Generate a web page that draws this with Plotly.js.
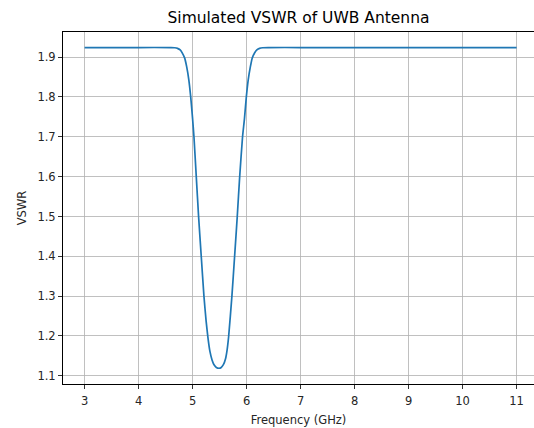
<!DOCTYPE html>
<html>
<head>
<meta charset="utf-8">
<script src="https://cdn.plot.ly/plotly-3.0.1.min.js"></script>
<style>html,body{margin:0;padding:0;background:#fff;}#chart{width:534px;height:428px;}</style>
</head>
<body>
<div id="chart"></div>
<script>
// Frequency (GHz)
const frequency = [3.0, 4.0, 4.6, 4.667, 4.72, 4.77, 4.81, 4.852, 4.89, 4.93, 4.965, 5.0, 5.025, 5.068, 5.111, 5.16, 5.21, 5.25, 5.284, 5.32, 5.36, 5.40, 5.44, 5.49, 5.53, 5.57, 5.61, 5.64, 5.667, 5.728, 5.778, 5.827, 5.872, 5.925, 5.96, 5.995, 6.03, 6.07, 6.105, 6.15, 6.19, 6.24, 6.30, 6.4, 7.0, 8.0, 9.0, 10.0, 11.0];
// VSWR values
const vswr = [1.924, 1.924, 1.924, 1.9235, 1.922, 1.918, 1.910, 1.898, 1.876, 1.843, 1.800, 1.745, 1.700, 1.600, 1.500, 1.400, 1.300, 1.238, 1.196, 1.162, 1.140, 1.127, 1.121, 1.119, 1.121, 1.128, 1.143, 1.166, 1.198, 1.300, 1.400, 1.500, 1.600, 1.700, 1.745, 1.800, 1.843, 1.876, 1.898, 1.911, 1.918, 1.922, 1.9235, 1.924, 1.924, 1.924, 1.924, 1.924, 1.924];
const xTicks = [3, 4, 5, 6, 7, 8, 9, 10, 11];
const yTicks = [1.1, 1.2, 1.3, 1.4, 1.5, 1.6, 1.7, 1.8, 1.9];

const font = {family: 'DejaVu Sans, sans-serif', size: 11.5, color: '#262626'};

Plotly.newPlot('chart', [{
  x: frequency,
  y: vswr,
  type: 'scatter',
  mode: 'lines',
  line: {color: '#1f77b4', width: 1.7, shape: 'spline', smoothing: 0.5},
  hoverinfo: 'skip'
}], {
  width: 534,
  height: 428,
  margin: {l: 63, r: 0, t: 32, b: 44},
  paper_bgcolor: '#fff',
  plot_bgcolor: '#fff',
  showlegend: false,
  font: font,
  title: {
    text: 'Simulated VSWR of UWB Antenna',
    font: {family: 'DejaVu Sans, sans-serif', size: 15.5, color: '#000'},
    xref: 'paper', x: 0.5, xanchor: 'center',
    yref: 'container', y: 1 - 18/428, yanchor: 'middle'
  },
  xaxis: {
    range: [2.6, 2.6 + 471/54],
    tickmode: 'array', tickvals: xTicks, ticktext: xTicks.map(String),
    showgrid: true, gridcolor: '#b0b0b0', gridwidth: 0.8,
    zeroline: false,
    showline: true, linecolor: '#000', linewidth: 1, mirror: true,
    ticks: 'outside', ticklen: 4, tickcolor: '#000', tickwidth: 0.8,
    ticklabelstandoff: 2,
    tickfont: font,
    automargin: false,
    title: {text: 'Frequency (GHz)', font: font, standoff: 9}
  },
  yaxis: {
    range: [1.0795, 1.963],
    tickmode: 'array', tickvals: yTicks, ticktext: yTicks.map(v => v.toFixed(1)),
    showgrid: true, gridcolor: '#b0b0b0', gridwidth: 0.8,
    zeroline: false,
    showline: true, linecolor: '#000', linewidth: 1, mirror: false,
    ticks: 'outside', ticklen: 4, tickcolor: '#000', tickwidth: 0.8,
    tickfont: font,
    automargin: false,
    title: {text: 'VSWR', font: font, standoff: 8}
  }
}, {staticPlot: true, displayModeBar: false});
</script>
</body>
</html>
